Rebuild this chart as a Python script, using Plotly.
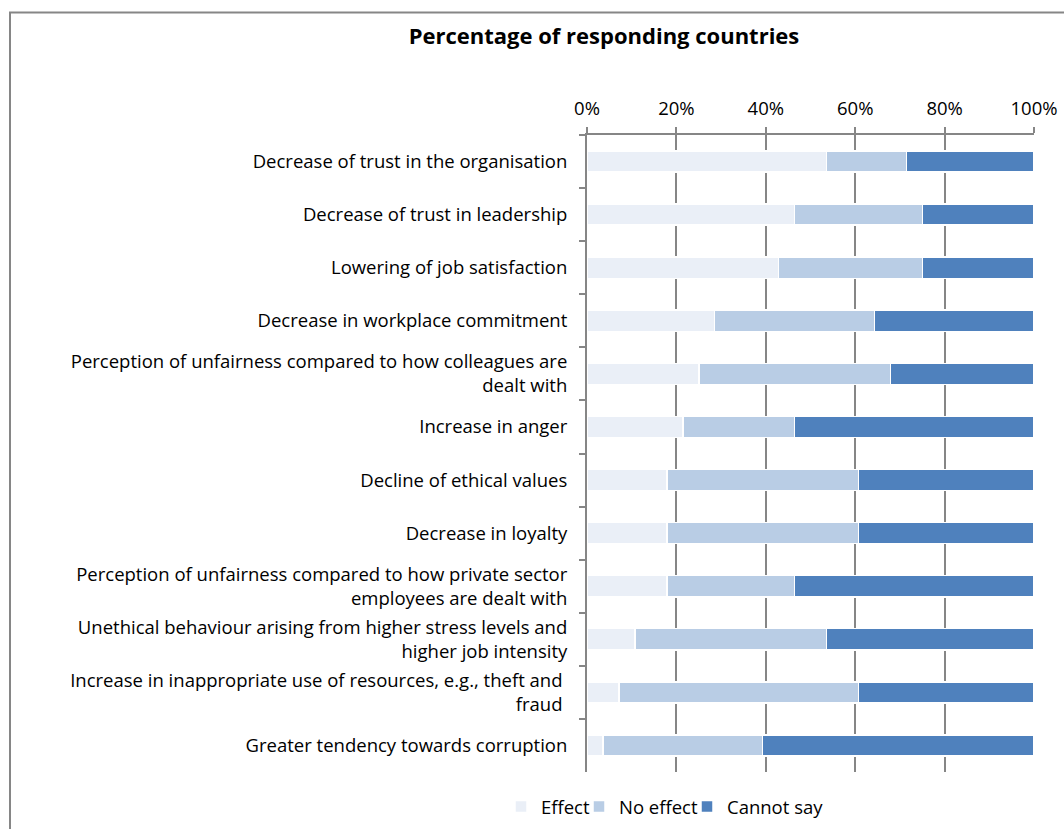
import plotly.graph_objects as go

categories = [
    "Decrease of trust in the organisation",
    "Decrease of trust in leadership",
    "Lowering of job satisfaction",
    "Decrease in workplace commitment",
    "Perception of unfairness compared to how colleagues are<br>dealt with",
    "Increase in anger",
    "Decline of ethical values",
    "Decrease in loyalty",
    "Perception of unfairness compared to how private sector<br>employees are dealt with",
    "Unethical behaviour arising from higher stress levels and<br>higher job intensity",
    "Increase in inappropriate use of resources, e.g., theft and\u00a0<br>fraud\u00a0",
    "Greater tendency towards corruption",
]
effect = [53.57, 46.43, 42.86, 28.57, 25.00, 21.43, 17.86, 17.86, 17.86, 10.71, 7.14, 3.57]
no_effect = [17.86, 28.57, 32.14, 35.71, 42.86, 25.00, 42.86, 42.86, 28.57, 42.86, 53.57, 35.71]
cannot_say = [28.57, 25.00, 25.00, 35.72, 32.14, 53.57, 39.28, 39.28, 53.57, 46.43, 39.29, 60.72]
series_names = ["Effect", "No effect", "Cannot say"]
x_ticks = [0, 20, 40, 60, 80, 100]

colors = ["#EAEFF7", "#B9CDE5", "#4F81BD"]
FONT = "Open Sans"
GRID = "#868686"
FS = 18.5

# plot area in pixels
L, R, T, B = 587, 1034, 135, 772
W, H = 1064, 829
legend_ids = ["legend", "legend2", "legend3"]
legend_text_x = [541, 619, 727]

fig = go.Figure()
for name, vals, col, lid in zip(series_names, [effect, no_effect, cannot_say], colors, legend_ids):
    fig.add_trace(go.Bar(
        y=categories, x=vals, name=name, orientation="h",
        marker=dict(color=col, line=dict(color="white", width=1.5)),
        hoverinfo="skip", legend=lid,
    ))

legend_common = dict(orientation="h", xanchor="left", yanchor="middle",
                     font=dict(family=FONT, size=FS, color="#000000"),
                     itemwidth=30, bgcolor="rgba(0,0,0,0)", borderwidth=0,
                     xref="container", yref="container")
legends = {}
for lid, tx in zip(legend_ids, legend_text_x):
    legends[lid] = dict(legend_common, x=(tx - 40) / W, y=1 - 807 / H)

fig.update_layout(
    width=W, height=H,
    barmode="stack", bargap=0.6,
    paper_bgcolor="white", plot_bgcolor="white",
    margin=dict(l=L, r=W - R, t=T, b=H - B, autoexpand=False),
    font=dict(family=FONT, size=FS, color="#000000"),
    title=dict(text="<b>Percentage of responding countries</b>",
               x=604 / W, xref="container", xanchor="center",
               y=1 - 36 / H, yref="container", yanchor="middle",
               font=dict(family=FONT, size=22, color="#000000")),
    showlegend=True,
    xaxis=dict(side="top", range=[0, 100], tickvals=x_ticks,
               ticktext=[f"{v}%" for v in x_ticks], automargin=False,
               showgrid=True, gridcolor=GRID, gridwidth=2,
               zeroline=False, showline=True, linecolor=GRID, linewidth=2,
               ticks="outside", ticklen=6, tickcolor=GRID, tickwidth=2,
               ticklabelstandoff=5, fixedrange=True),
    yaxis=dict(autorange="reversed", showgrid=False, zeroline=False, automargin=False,
               showline=True, linecolor=GRID, linewidth=2,
               ticks="outside", ticklen=6, tickcolor=GRID, tickwidth=2,
               tickson="boundaries", ticklabelstandoff=14, fixedrange=True),
    shapes=[dict(type="rect", xref="paper", yref="paper",
                 x0=(10 - L) / (R - L), x1=(1080 - L) / (R - L),
                 y0=(B - 850) / (B - T), y1=1 + (T - 12.5) / (B - T),
                 line=dict(color=GRID, width=2), fillcolor="rgba(0,0,0,0)", layer="below")],
    **legends,
)

fig.write_html(
    "out.html",
    config={"displayModeBar": False},
    post_script="document.body.style.margin='0';document.body.style.overflow='hidden';",
)
